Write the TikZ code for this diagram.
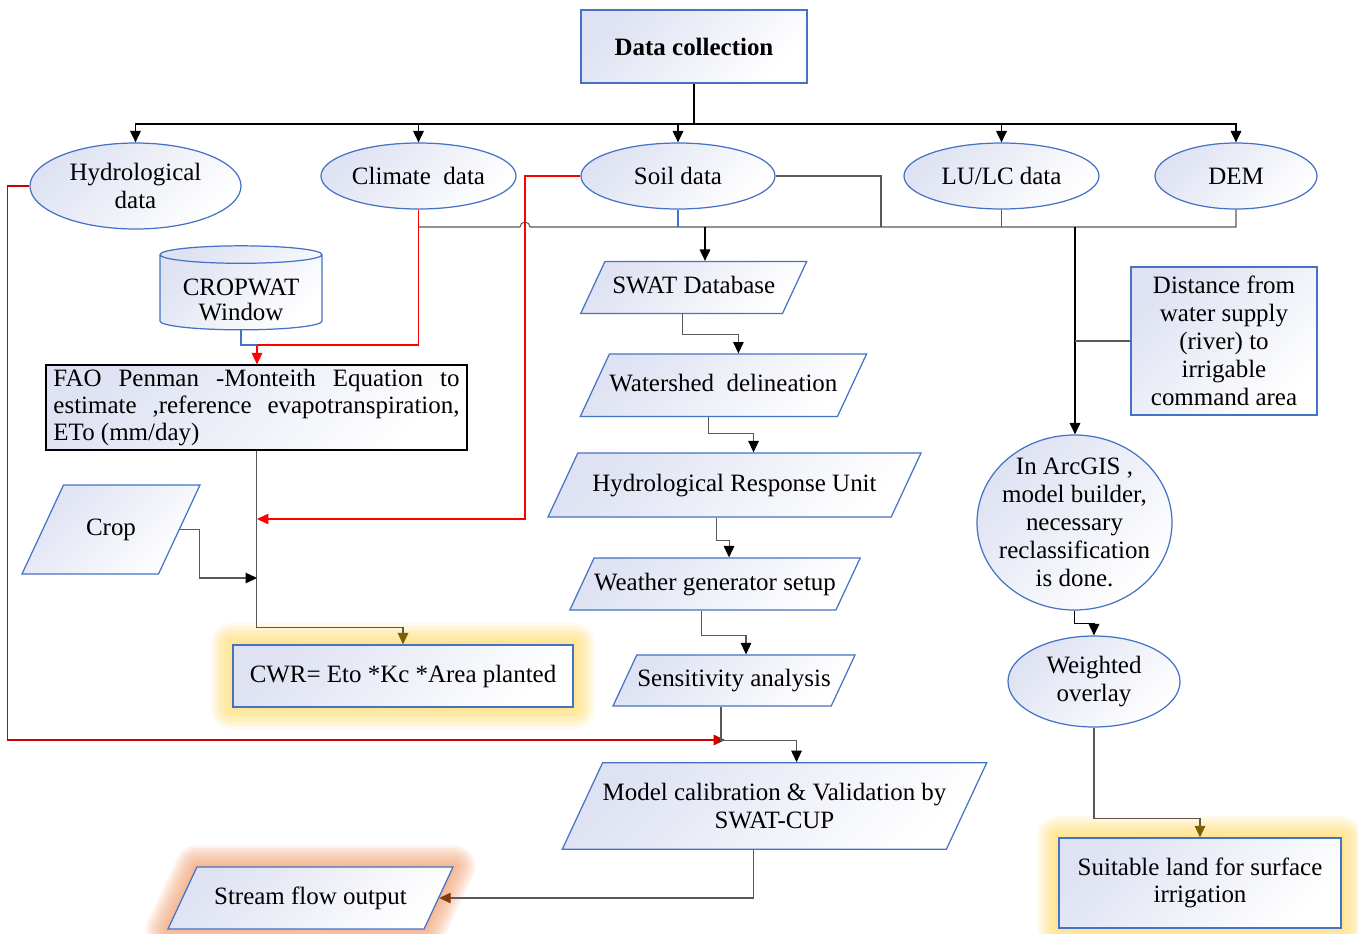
\documentclass[tikz,border=0pt]{standalone}
\usepackage{fontspec}
\setmainfont{Liberation Serif}
\usetikzlibrary{arrows.meta, shapes.geometric, backgrounds}
\definecolor{bordblue}{RGB}{68,114,196}
\definecolor{fillblue}{RGB}{222,226,242}
\definecolor{linegray}{RGB}{89,89,89}
\definecolor{hydrored}{RGB}{204,0,0}
\definecolor{tipbrown}{RGB}{127,96,0}
\definecolor{tiprust}{RGB}{132,60,12}
\definecolor{glowyellow}{RGB}{255,214,90}
\definecolor{gloworange}{RGB}{240,150,100}
\tikzset{
  every node/.style={font=\fontsize{14.2pt}{15.6pt}\selectfont, inner sep=0pt},
  shaded/.style={draw=bordblue, line width=0.7pt, top color=fillblue, bottom color=white, shading angle=45},
  box/.style={shaded, rectangle, align=center},
  oval/.style={shaded, ellipse, align=center, inner sep=-2mm},
  para/.style={shaded, trapezium, trapezium left angle=65, trapezium right angle=115, trapezium stretches body=true, align=center, text height=3.5mm, text depth=1mm},
  arr/.style={-{Triangle[width=6pt,length=6.5pt]}},
  arrk/.style={-{Triangle[width=6pt,length=6.5pt,color=black]}},
  arrbrown/.style={-{Triangle[width=6pt,length=6.5pt,color=tipbrown]}},
  arrrust/.style={-{Triangle[width=6pt,length=6.5pt,color=tiprust]}},
  bus/.style={line width=0.9pt, black},
  dline/.style={line width=0.6pt, linegray},
  bline/.style={line width=0.6pt, bordblue},
  rline/.style={line width=0.6pt, red},
}
\begin{document}
\begin{tikzpicture}[x=0.2mm, y=-0.2mm]
    \useasboundingbox (0,0) rectangle (1358,933);
    % top
    \node[box, minimum width=45.2mm, minimum height=14.6mm, font=\fontsize{14.2pt}{15.6pt}\selectfont\bfseries] (dc) at (694,46.5) {Data collection};
    % data sources
    \node[oval, minimum width=42.2mm, minimum height=17.2mm] (hydro) at (135.5,186) {Hydrological\\data};
    \node[oval, minimum width=39mm, minimum height=13.2mm] (climate) at (418.5,176) {Climate~~data};
    \node[oval, minimum width=38.8mm, minimum height=13.2mm] (soil) at (678,176) {Soil data};
    \node[oval, minimum width=39mm, minimum height=13.2mm] (lulc) at (1001.5,176) {LU/LC data};
    \node[oval, minimum width=32.4mm, minimum height=13.2mm] (dem) at (1236,176) {DEM};
    % crop water requirement branch
    \node[shaded, cylinder, shape border rotate=90, aspect=0.15, minimum width=32.4mm, minimum height=16.8mm] (cropwat) at (241,292.5) {\raisebox{-3.3mm}[0pt][0pt]{\begin{tabular}{@{}c@{}}CROPWAT\\[-1.5pt]Window\end{tabular}}};
    \node[draw=black, line width=0.7pt, top color=fillblue, bottom color=white, shading angle=45, text width=81.2mm, align=justify, minimum width=84.2mm, minimum height=17mm] (fao) at (256.5,407.5) {FAO Penman -Monteith Equation to\linebreak estimate ,reference evapotranspiration,\linebreak ETo (mm/day)};
    \node[para, minimum width=35.6mm, inner ysep=6.65mm] (crop) at (111,529.5) {Crop};
    \node[box, minimum width=68mm, minimum height=12.4mm] (cwr) at (403,676) {CWR= Eto *Kc *Area planted};
    % SWAT branch
    \node[para, minimum width=45.2mm, inner ysep=2.95mm] (swat) at (693.7,287.5) {SWAT Database};
    \node[para, minimum width=57mm, inner ysep=4mm] (wshed) at (723.4,385.3) {Watershed~~delineation};
    \node[para, minimum width=74.6mm, inner ysep=4.15mm] (hru) at (734.5,485) {Hydrological Response Unit};
    \node[para, minimum width=56.8mm, inner ysep=2.95mm] (wgen) at (715,584) {Weather generator setup};
    \node[para, minimum width=48.4mm, inner ysep=2.85mm] (sens) at (734,680.5) {Sensitivity analysis};
    \node[para, minimum width=84.2mm, inner ysep=4.15mm, text height=, text depth=] (calib) at (774.5,806) {Model calibration \& Validation by\\SWAT-CUP};
    \node[para, minimum width=57mm, inner ysep=3.95mm] (stream) at (310.5,898) {Stream flow output};
    % suitability branch
    \node[box, minimum width=37.2mm, minimum height=29.6mm, font=\fontsize{14.2pt}{15.9pt}\selectfont] (dist) at (1224,341) {Distance from\\water supply\\(river) to\\irrigable\\command area};
    \node[oval, minimum width=39mm, minimum height=35mm, font=\fontsize{14.2pt}{15.9pt}\selectfont] (arcgis) at (1074.5,522.5) {In ArcGIS ,\\model builder,\\necessary\\reclassification\\is done.};
    \node[oval, minimum width=34.4mm, minimum height=18.2mm] (woverlay) at (1094,681.5) {Weighted\\overlay};
    \node[box, minimum width=56.4mm, minimum height=18mm] (suit) at (1200,883) {Suitable land for surface\\irrigation};
    % glows
    \begin{pgfonlayer}{background}
        \foreach \w in {3,6,...,24} {
            \draw[glowyellow, opacity=0.12, line width=\w pt, line join=round] (cwr.north west) rectangle (cwr.south east);
            \draw[glowyellow, opacity=0.12, line width=\w pt, line join=round] (suit.north west) rectangle (suit.south east);
            \draw[gloworange, opacity=0.12, line width=\w pt, line join=round] (stream.bottom left corner) -- (stream.top left corner) -- (stream.top right corner) -- (stream.bottom right corner) -- cycle;
        }
    \end{pgfonlayer}
    % first bus
    \coordinate (b1) at (694,124);
    \draw[bus] (dc.south) -- (b1);
    \foreach \n in {hydro,climate,soil,lulc,dem}
        \draw[bus,arr] (b1) -| (\n.north);
    % second bus
    \coordinate (b2) at (705,227);
    \coordinate (b3) at (1075,227);
    \coordinate (b4) at (881,227);
    \coordinate (hump) at (520,227);
    \draw[dline] (climate.south |- b2) -- (hump) arc[start angle=180, end angle=360, radius=5] -- (dem.south |- b2) -- (dem.south);
    \draw[dline] (lulc.south) -- (lulc.south |- b2);
    \draw[dline] (soil.east) -| (b4);
    \draw[bline] (soil.south) -- (soil.south |- b2);
    \draw[bus,arr] (b2) -- (b2 |- swat.north);
    \draw[bus,arr] (b3) -- (b3 |- arcgis.north);
    \draw[dline] (dist.west) -- (dist.west -| b3);
    % red links
    \coordinate (c1) at (257,345);
    \coordinate (r1) at (525,519);
    \coordinate (r2) at (257,578);
    \coordinate (h1) at (725,740);
    \draw[rline,arr] (climate.south) |- (c1) -- (c1 |- fao.north);
    \draw[bline] (cropwat.south) |- (c1);
    \draw[rline,arr] (soil.west) -| (r1) -- (r1 -| c1);
    \draw[line width=0.8pt, hydrored, arr] (hydro.west) -- ++(-22,0) |- (h1);
    % crop water requirement
    \draw[dline,arrbrown] (fao.south) -- ++(0,177) -| (cwr.north);
    \draw[dline,arrk] (crop.east) -- ++(20,0) |- (r2);
    % SWAT chain
    \draw[dline,arrk] ([xshift=-2.2mm]swat.south) -- ++(0,20) -| ([xshift=3mm]wshed.north);
    \draw[dline,arrk] ([xshift=-2.9mm]wshed.south) -- ++(0,16) -| ([xshift=3.8mm]hru.north);
    \draw[dline,arrk] ([xshift=-3.6mm]hru.south) -- ++(0,23) -| ([xshift=2.8mm]wgen.north);
    \draw[dline,arrk] ([xshift=-2.8mm]wgen.south) -- ++(0,25) -| ([xshift=2.4mm]sens.north);
    \draw[dline,arrk] ([xshift=-2.6mm]sens.south) -- ++(0,34) -| ([xshift=4.4mm]calib.north);
    \draw[dline,arrrust] ([xshift=-4.2mm]calib.south) |- (stream.east);
    % suitability chain
    \draw[bus,arrk] (arcgis.south) -- ++(0,13) -| (woverlay.north);
    \draw[dline,arrbrown] (woverlay.south) -- ++(0,91) -| (suit.north);
\end{tikzpicture}
\end{document}
